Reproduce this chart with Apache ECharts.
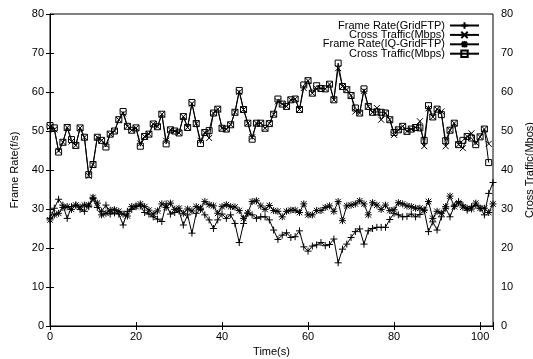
<!DOCTYPE html>
<html>
<head>
<meta charset="utf-8">
<script src="https://cdn.jsdelivr.net/npm/echarts@6/dist/echarts.min.js"></script>
<style>
  html, body { margin: 0; padding: 0; background: #fff; }
  #chart { width: 533px; height: 359px; }
</style>
</head>
<body>
<div id="chart"></div>
<script>
// time axis (s)
const time = [
  0, 1, 2, 3, 4, 5, 6, 7, 8, 9, 10, 11, 12, 13, 14, 15, 16, 17, 18, 19,
  20, 21, 22, 23, 24, 25, 26, 27, 28, 29, 30, 31, 32, 33, 34, 35, 36, 37, 38, 39,
  40, 41, 42, 43, 44, 45, 46, 47, 48, 49, 50, 51, 52, 53, 54, 55, 56, 57, 58, 59,
  60, 61, 62, 63, 64, 65, 66, 67, 68, 69, 70, 71, 72, 73, 74, 75, 76, 77, 78, 79,
  80, 81, 82, 83, 84, 85, 86, 87, 88, 89, 90, 91, 92, 93, 94, 95, 96, 97, 98, 99,
  100, 101, 102, 103
]

// Frame Rate(GridFTP)  (+)
const frameGridFTP = [
  27.6, 30.2, 32.5, 31.0, 27.6, 30.6, 31.0, 29.9, 29.4, 30.6,
  32.7, 30.4, 29.4, 31.0, 28.7, 29.0, 28.7, 25.9, 29.4, 29.9,
  30.8, 30.8, 29.1, 28.7, 28.0, 27.4, 26.8, 31.3, 28.7, 29.1,
  29.5, 25.9, 28.5, 23.8, 28.9, 29.9, 28.5, 27.2, 25.0, 27.2,
  28.7, 27.6, 28.5, 26.3, 21.4, 26.3, 28.9, 28.5, 27.6, 28.0,
  28.0, 27.2, 24.6, 22.2, 23.3, 23.9, 22.7, 22.9, 24.4, 20.3,
  19.2, 20.5, 20.8, 21.4, 20.6, 20.9, 22.3, 16.2, 19.7, 21.0,
  22.7, 24.2, 24.9, 21.0, 24.4, 25.0, 25.3, 25.3, 25.3, 27.3,
  28.9, 28.5, 28.0, 28.1, 28.7, 28.0, 28.6, 29.7, 24.2, 26.7,
  24.6, 28.0, 30.2, 28.0, 30.8, 31.9, 31.0, 29.7, 30.6, 31.0,
  30.2, 28.5, 34.0, 36.8
]

// Cross Traffic(Mbps)  (x)
const crossTraffic1 = [
  51.0, 50.4, 44.9, 47.1, 50.9, 47.3, 46.3, 50.8, 48.4, 38.5,
  41.4, 48.4, 47.6, 46.5, 49.2, 50.0, 52.9, 54.5, 51.2, 50.2,
  50.8, 46.8, 48.6, 49.2, 51.8, 51.1, 54.3, 47.5, 50.3, 50.0,
  49.5, 53.7, 50.9, 57.0, 51.9, 47.5, 49.6, 48.2, 54.6, 55.6,
  50.7, 50.5, 51.6, 54.8, 60.0, 55.5, 52.0, 48.4, 52.0, 52.0,
  50.7, 51.9, 54.3, 57.6, 56.9, 56.3, 58.0, 58.2, 55.5, 61.0,
  62.9, 59.7, 60.8, 60.9, 60.8, 62.0, 58.0, 66.1, 61.4, 60.6,
  59.1, 55.0, 54.6, 60.3, 56.3, 54.8, 55.9, 52.9, 54.6, 52.9,
  49.0, 50.3, 51.2, 49.9, 50.5, 50.9, 52.5, 46.1, 55.8, 53.6,
  55.6, 55.0, 46.1, 50.2, 52.0, 46.5, 45.6, 48.6, 49.4, 47.0,
  48.5, 50.5, 46.7
]

// Frame Rate(IQ-GridFTP)  (*)
const frameIQGridFTP = [
  27.2, 28.5, 28.9, 30.4, 30.6, 29.9, 31.0, 30.5, 31.0, 31.0,
  33.0, 31.5, 28.5, 28.9, 29.7, 29.8, 29.4, 28.7, 28.2, 30.6,
  30.6, 31.3, 30.6, 29.7, 28.7, 29.5, 31.3, 30.4, 31.5, 29.9,
  30.2, 28.9, 30.0, 29.5, 30.6, 30.2, 31.9, 31.1, 30.8, 28.9,
  30.6, 31.1, 30.6, 30.5, 29.6, 27.6, 29.0, 31.9, 32.1, 30.8,
  29.9, 30.9, 29.6, 29.4, 28.0, 29.4, 29.7, 29.7, 29.1, 31.3,
  28.5, 28.5, 29.6, 29.6, 30.4, 30.8, 29.4, 31.9, 27.0, 30.8,
  31.0, 31.3, 32.1, 31.3, 28.5, 31.6, 31.0, 29.9, 31.0, 29.6,
  29.8, 31.6, 31.3, 30.8, 30.6, 30.2, 30.2, 29.7, 31.9, 27.6,
  29.4, 28.9, 30.6, 33.3, 30.6, 31.6, 30.5, 30.2, 30.0, 31.5,
  30.2, 30.2, 29.1, 31.3
]

// Cross Traffic(Mbps)  (square)
const crossTraffic2 = [
  51.4, 50.8, 44.6, 47.1, 50.9, 47.8, 46.3, 50.8, 48.4, 38.8,
  41.4, 48.4, 47.6, 45.9, 49.2, 50.0, 52.9, 55.0, 51.2, 50.2,
  50.8, 46.1, 48.6, 49.2, 51.8, 51.1, 54.3, 46.7, 50.3, 50.0,
  49.5, 53.7, 50.9, 57.3, 51.9, 46.8, 49.6, 50.1, 54.6, 55.6,
  50.7, 50.5, 51.6, 54.8, 60.4, 55.5, 52.0, 47.9, 52.0, 52.0,
  50.7, 51.9, 54.3, 58.2, 56.9, 56.3, 58.0, 58.2, 55.5, 61.8,
  62.9, 59.7, 61.6, 60.9, 60.8, 62.0, 58.0, 67.4, 61.4, 60.6,
  59.1, 55.9, 54.6, 60.8, 56.3, 54.8, 54.9, 54.8, 54.6, 52.9,
  49.6, 50.3, 51.2, 49.9, 50.5, 50.9, 50.8, 47.6, 56.5, 53.6,
  55.6, 54.2, 47.5, 50.2, 52.0, 46.5, 47.6, 48.6, 48.2, 46.5,
  48.5, 50.5, 41.9
]

const FONT = 'Liberation Sans, Arial, Helvetica, sans-serif'
const pair = vals => vals.map((v, i) => [time[i], v])

const PLUS = 'path://M0,5L10,5M5,0L5,10'
const CROSS = 'path://M0,0L10,10M10,0L0,10'
const STAR = 'path://M0,5L10,5M5,0L5,10M1,1L9,9M9,1L1,9'

function lineSeries(name, vals, symbol, size, yAxisIndex, hollow) {
    return {
        name: name,
        type: 'line',
        yAxisIndex: yAxisIndex,
        data: pair(vals),
        symbol: symbol,
        symbolSize: size,
        showAllSymbol: true,
        lineStyle: { color: '#000', width: 1 },
        itemStyle: {
            color: hollow ? 'rgba(0,0,0,0)' : '#000',
            borderColor: '#000',
            borderWidth: 1
        },
        emphasis: { disabled: true },
        z: 2
    }
}

const chart = echarts.init(document.getElementById('chart'), null, { renderer: 'canvas' })

const axisText = { color: '#000', fontSize: 11, fontFamily: FONT }

chart.setOption({
    animation: false,
    backgroundColor: '#fff',
    grid: {
        left: 50, right: 40, top: 14, bottom: 33,
        outerBoundsMode: 'none',
        containLabel: false,
        show: true, borderColor: '#000', borderWidth: 1, backgroundColor: 'transparent'
    },
    legend: {
        orient: 'vertical',
        align: 'right',
        right: 53,
        top: 20,
        padding: 0,
        itemWidth: 29,
        itemHeight: 8,
        itemGap: -1.6,
        formatter: name => name.trim(),
        textStyle: { color: '#000', fontSize: 11, fontFamily: FONT },
        data: ['Frame Rate(GridFTP)', 'Cross Traffic(Mbps)', 'Frame Rate(IQ-GridFTP)', 'Cross Traffic(Mbps) ']
    },
    xAxis: [
        {
            type: 'value', min: 0, max: 103, interval: 20, position: 'bottom',
            name: 'Time(s)', nameLocation: 'middle', nameGap: 17,
            nameTextStyle: axisText,
            axisLine: { show: true, lineStyle: { color: '#000', width: 1 } },
            axisTick: { show: true, inside: true, length: 4, lineStyle: { color: '#000' } },
            axisLabel: Object.assign({ margin: 5, formatter: v => (v % 20 === 0 ? v : '') }, axisText),
            splitLine: { show: false }
        },
        {
            type: 'value', min: 0, max: 103, interval: 20, position: 'top',
            axisLine: { show: true, lineStyle: { color: '#000', width: 1 } },
            axisTick: { show: true, inside: true, length: 4, lineStyle: { color: '#000' } },
            axisLabel: { show: false },
            splitLine: { show: false }
        }
    ],
    yAxis: [
        {
            type: 'value', min: 0, max: 80, interval: 10, position: 'left',
            name: 'Frame Rate(f/s)', nameLocation: 'middle', nameGap: 28, nameRotate: 90,
            nameTextStyle: axisText,
            axisLine: { show: true, lineStyle: { color: '#000', width: 1 } },
            axisTick: { show: true, inside: true, length: 4, lineStyle: { color: '#000' } },
            axisLabel: Object.assign({ margin: 6 }, axisText),
            splitLine: { show: false }
        },
        {
            type: 'value', min: 0, max: 80, interval: 10, position: 'right',
            name: 'Cross Traffic(Mbos)', nameLocation: 'middle', nameGap: 30, nameRotate: 90,
            nameTextStyle: axisText,
            axisLine: { show: true, lineStyle: { color: '#000', width: 1 } },
            axisTick: { show: true, inside: true, length: 4, lineStyle: { color: '#000' } },
            axisLabel: Object.assign({ margin: 8 }, axisText),
            splitLine: { show: false }
        }
    ],
    series: [
        lineSeries('Frame Rate(GridFTP)', frameGridFTP, PLUS, 7, 0, false),
        lineSeries('Cross Traffic(Mbps)', crossTraffic1, CROSS, 6, 1, false),
        lineSeries('Frame Rate(IQ-GridFTP)', frameIQGridFTP, STAR, 7, 0, false),
        lineSeries('Cross Traffic(Mbps) ', crossTraffic2, 'rect', 6, 1, true)
    ]
})

window.addEventListener('resize', () => chart.resize())
</script>
</body>
</html>
